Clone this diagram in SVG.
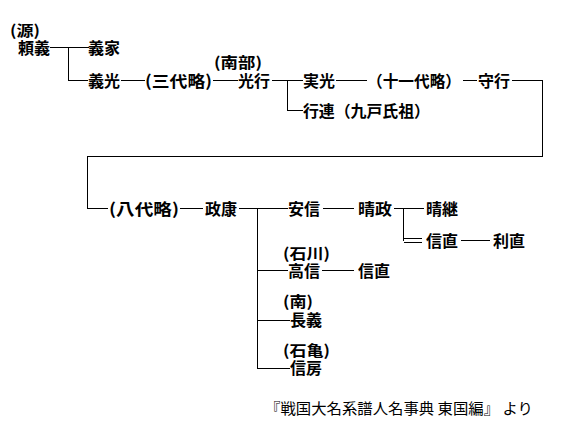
<svg xmlns="http://www.w3.org/2000/svg" width="585" height="444" viewBox="0 0 585 444">
<style>
text{font-family:"Noto Sans CJK JP","Noto Sans CJK SC",sans-serif;font-size:16px;font-weight:bold;fill:#000}
.p{font-size:15px}
.n{font-size:15px;font-weight:normal}
.c path{stroke:#000;stroke-width:1;fill:none;shape-rendering:crispEdges}
</style>
<rect width="585" height="444" fill="#fff"/>
<g class="c" id="connectors">
<path d="M50 47.5H88.5M68.5 47.5V80.5H88"/>
<path d="M121 80.5H145M213 80.5H238"/>
<path d="M272 80.5H303M287.5 80.5V110.5H303"/>
<path d="M336 80.5H367M463 80.5H477"/>
<path d="M512 80.5H542.5V156.5H87.5V208.5H108"/>
<path d="M180 208.5H203M239 208.5H288M257.5 208.5V368.5"/>
<path d="M323 208.5H354M394 208.5H424M403.5 208.5V240.5"/>
<path d="M404 238.5H422M404 242.5H422M461 240.5H490"/>
<path d="M257 270.5H288M322 270.5H354"/>
<path d="M257 320.5H290M257 368.5H290"/>
</g>
<g id="n1"><text class="p" x="10" y="36" textLength="30" lengthAdjust="spacingAndGlyphs">(源)</text><text x="18" y="54" textLength="32" lengthAdjust="spacingAndGlyphs">頼義</text></g>
<g id="n2"><text x="88" y="54" textLength="32" lengthAdjust="spacingAndGlyphs">義家</text></g>
<g id="n3"><text x="88" y="87" textLength="32" lengthAdjust="spacingAndGlyphs">義光</text></g>
<g id="n4"><text x="145" y="87" textLength="67" lengthAdjust="spacingAndGlyphs">(三代略)</text></g>
<g id="n5"><text class="p" x="214" y="68" textLength="48" lengthAdjust="spacingAndGlyphs">(南部)</text><text x="238" y="87" textLength="32" lengthAdjust="spacingAndGlyphs">光行</text></g>
<g id="n6"><text x="303" y="87" textLength="32" lengthAdjust="spacingAndGlyphs">実光</text></g>
<g id="n7"><text x="367" y="87" textLength="94" lengthAdjust="spacingAndGlyphs">（十一代略）</text></g>
<g id="n8"><text x="478" y="87" textLength="32" lengthAdjust="spacingAndGlyphs">守行</text></g>
<g id="n9"><text x="303" y="117" textLength="127" lengthAdjust="spacingAndGlyphs">行連（九戸氏祖）</text></g>
<g id="n10"><text x="109" y="215" textLength="70" lengthAdjust="spacingAndGlyphs">(八代略)</text></g>
<g id="n11"><text x="205" y="215" textLength="32" lengthAdjust="spacingAndGlyphs">政康</text></g>
<g id="n12"><text x="288" y="215" textLength="32" lengthAdjust="spacingAndGlyphs">安信</text></g>
<g id="n13"><text x="358" y="215" textLength="34" lengthAdjust="spacingAndGlyphs">晴政</text></g>
<g id="n14"><text x="426" y="215" textLength="32" lengthAdjust="spacingAndGlyphs">晴継</text></g>
<g id="n15"><text x="426" y="247" textLength="32" lengthAdjust="spacingAndGlyphs">信直</text></g>
<g id="n16"><text x="493" y="247" textLength="32" lengthAdjust="spacingAndGlyphs">利直</text></g>
<g id="n17"><text class="p" x="283" y="259" textLength="47" lengthAdjust="spacingAndGlyphs">(石川)</text><text x="288" y="277" textLength="32" lengthAdjust="spacingAndGlyphs">高信</text></g>
<g id="n18"><text x="358" y="277" textLength="32" lengthAdjust="spacingAndGlyphs">信直</text></g>
<g id="n19"><text class="p" x="283" y="307" textLength="30" lengthAdjust="spacingAndGlyphs">(南)</text><text x="290" y="326" textLength="32" lengthAdjust="spacingAndGlyphs">長義</text></g>
<g id="n20"><text class="p" x="283" y="356" textLength="47" lengthAdjust="spacingAndGlyphs">(石亀)</text><text x="290" y="374" textLength="32" lengthAdjust="spacingAndGlyphs">信房</text></g>
<g id="source"><text class="n" x="265" y="414" textLength="268" lengthAdjust="spacingAndGlyphs">『戦国大名系譜人名事典 東国編』 より</text></g>
</svg>
